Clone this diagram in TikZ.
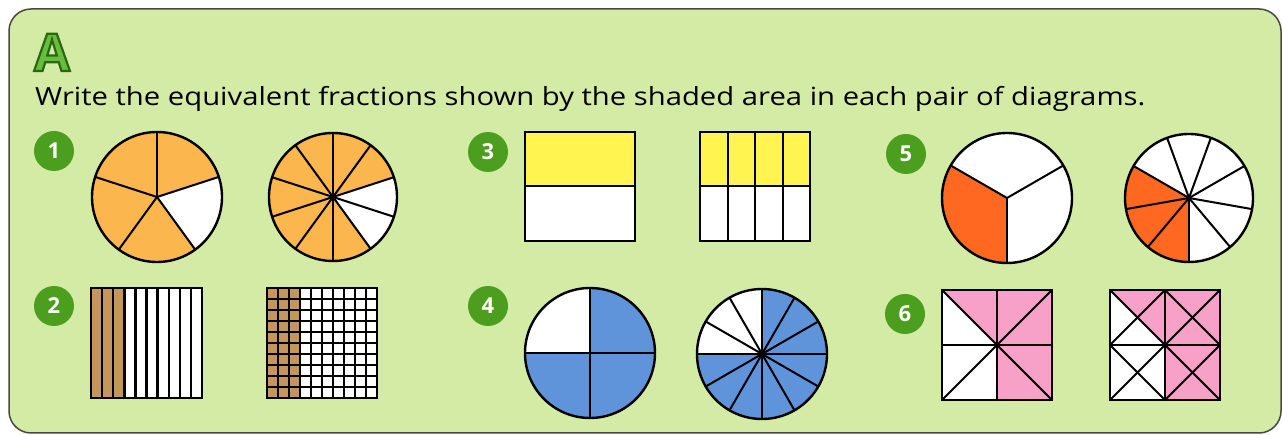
\documentclass[tikz,border=0pt]{standalone}
\usepackage{fontspec}
\setmainfont{Open Sans}
\newfontfamily\instrfont[FakeStretch=1.17]{Open Sans}
\definecolor{bgG}{RGB}{212,235,166}
\definecolor{frameC}{RGB}{70,75,60}
\definecolor{badgeG}{RGB}{75,158,30}
\definecolor{orangeF}{RGB}{252,182,78}
\definecolor{brownF}{RGB}{196,150,92}
\definecolor{yelF}{RGB}{255,244,80}
\definecolor{bluF}{RGB}{96,148,218}
\definecolor{redF}{RGB}{255,104,32}
\definecolor{pinkF}{RGB}{247,160,200}
\definecolor{titleG}{RGB}{104,190,60}
\tikzset{
  outline/.style={draw=black, line width=2.4pt},
  pieline/.style={draw=black, line width=2pt},
  gridline/.style={draw=black, line width=2.4pt},
  badge/.style={circle, fill=badgeG, minimum size=40pt, inner sep=0pt, text=white,
    font=\bfseries\fontsize{22}{22}\selectfont},
}
\begin{document}
\begin{tikzpicture}[x=1pt,y=-1pt]
\useasboundingbox (0,0) rectangle (1283,435);
\fill[white] (0,0) rectangle (1283,435);
% frame
\draw[draw=frameC, line width=1.5pt, fill=bgG, rounded corners=22pt] (9,9) rectangle (1281,433);
% title A (fill + dark green stroke)
\node[text=titleG, font=\bfseries\fontsize{52}{52}\selectfont, inner sep=0pt, anchor=base] (title) at (52,71)
  {\special{pdf:literal direct 2 Tr 2.2 w 0.16 0.41 0.08 RG}A\special{pdf:literal direct 0 Tr}};
% instruction
\node[anchor=base west, inner sep=0pt, font=\instrfont\fontsize{25}{25}\selectfont] (instr) at (35,106)
  {Write the equivalent fractions shown by the shaded area in each pair of diagrams.};
% badges
\node[badge] (b1) at (54,151) {1};
\node[badge] (b2) at (54,306) {2};
\node[badge] (b3) at (488,152) {3};
\node[badge] (b4) at (488,306) {4};
\node[badge] (b5) at (906,154) {5};
\node[badge] (b6) at (905,314) {6};
% ---------- 1 ----------
\begin{scope}[shift={(157,197)},y=1pt]
  \fill[orangeF] (0,0) circle[radius=65];
  \fill[white] (0,0) -- (18:65) arc[start angle=18,end angle=-54,radius=65] -- cycle;
  \foreach \a in {90,18,-54,-126,162} \draw[pieline] (0,0) -- (\a:65);
  \draw[outline] (0,0) circle[radius=65];
\end{scope}
\begin{scope}[shift={(333,197)},y=1pt]
  \fill[orangeF] (0,0) circle[radius=64];
  \fill[white] (0,0) -- (18:64) arc[start angle=18,end angle=-54,radius=64] -- cycle;
  \foreach \a in {0,36,...,324} \draw[pieline] (0,0) -- ({\a+18}:64);
  \fill (0,0) circle[radius=3];
  \draw[outline] (0,0) circle[radius=64];
\end{scope}
% ---------- 2 ----------
\fill[white] (91,288) rectangle (202,398);
\fill[brownF] (91,288) rectangle ({91+3*11.1},398);
\foreach \i in {1,...,9} \draw[gridline] ({91+\i*11.1},288) -- ({91+\i*11.1},398);
\draw[outline] (91,288) rectangle (202,398);
\fill[white] (267,288) rectangle (377,398);
\fill[brownF] (267,288) rectangle ({267+3*11},398);
\foreach \i in {1,...,9} {
  \draw[gridline] ({267+\i*11},288) -- ({267+\i*11},398);
  \draw[gridline] (267,{288+\i*11}) -- (377,{288+\i*11});
}
\draw[outline] (267,288) rectangle (377,398);
% ---------- 3 ----------
\fill[yelF] (525,132) rectangle (635,186);
\fill[white] (525,186) rectangle (635,241);
\draw[pieline] (525,186) -- (635,186);
\draw[outline] (525,132) rectangle (635,241);
\fill[yelF] (700,132) rectangle (810,186);
\fill[white] (700,186) rectangle (810,241);
\draw[pieline] (700,186) -- (810,186);
\foreach \i in {1,2,3} \draw[pieline] ({700+\i*27.5},132) -- ({700+\i*27.5},241);
\draw[outline] (700,132) rectangle (810,241);
% ---------- 4 ----------
\begin{scope}[shift={(590,353)},y=1pt]
  \fill[bluF] (0,0) circle[radius=65];
  \fill[white] (0,0) -- (90:65) arc[start angle=90,end angle=180,radius=65] -- cycle;
  \foreach \a in {0,90,180,270} \draw[pieline] (0,0) -- (\a:65);
  \draw[outline] (0,0) circle[radius=65];
\end{scope}
\begin{scope}[shift={(762,354)},y=1pt]
  \fill[bluF] (0,0) circle[radius=65];
  \fill[white] (0,0) -- (90:65) arc[start angle=90,end angle=180,radius=65] -- cycle;
  \foreach \a in {0,30,...,330} \draw[pieline] (0,0) -- (\a:65);
  \fill (0,0) circle[radius=4];
  \draw[outline] (0,0) circle[radius=65];
\end{scope}
% ---------- 5 ----------
\begin{scope}[shift={(1007,198)},y=1pt]
  \fill[white] (0,0) circle[radius=65];
  \fill[redF] (0,0) -- (150:65) arc[start angle=150,end angle=270,radius=65] -- cycle;
  \foreach \a in {30,150,270} \draw[pieline] (0,0) -- (\a:65);
  \draw[outline] (0,0) circle[radius=65];
\end{scope}
\begin{scope}[shift={(1189,198)},y=1pt]
  \fill[white] (0,0) circle[radius=64];
  \fill[redF] (0,0) -- (150:64) arc[start angle=150,end angle=270,radius=64] -- cycle;
  \foreach \a in {30,70,...,350} \draw[pieline] (0,0) -- (\a:64);
  \fill (0,0) circle[radius=2.5];
  \draw[outline] (0,0) circle[radius=64];
\end{scope}
% ---------- 6 ----------
\begin{scope}[shift={(997,345)}]
  \fill[white] (-55,-55) rectangle (55,55);
  \fill[pinkF] (-55,-55) -- (0,0) -- (0,-55) -- cycle;
  \fill[pinkF] (0,-55) rectangle (55,55);
  \draw[pieline] (-55,0) -- (55,0);
  \draw[pieline] (0,-55) -- (0,55);
  \draw[pieline] (-55,-55) -- (55,55);
  \draw[pieline] (-55,55) -- (55,-55);
  \fill (0,0) circle[radius=3];
  \draw[outline] (-55,-55) rectangle (55,55);
\end{scope}
\begin{scope}[shift={(1165,345)}]
  \fill[white] (-55,-55) rectangle (55,55);
  \fill[pinkF] (0,-55) rectangle (55,55);
  \fill[pinkF] (-55,-55) -- (-27.5,-27.5) -- (0,0) -- (0,-55) -- cycle;
  \draw[pieline] (-55,0) -- (55,0);
  \draw[pieline] (0,-55) -- (0,55);
  \foreach \qx in {-55,0} \foreach \qy in {-55,0} {
    \draw[pieline] (\qx,\qy) -- ({\qx+55},{\qy+55});
    \draw[pieline] (\qx,{\qy+55}) -- ({\qx+55},\qy);
  }
  \fill (0,0) circle[radius=3];
  \draw[outline] (-55,-55) rectangle (55,55);
\end{scope}
\end{tikzpicture}
\end{document}
